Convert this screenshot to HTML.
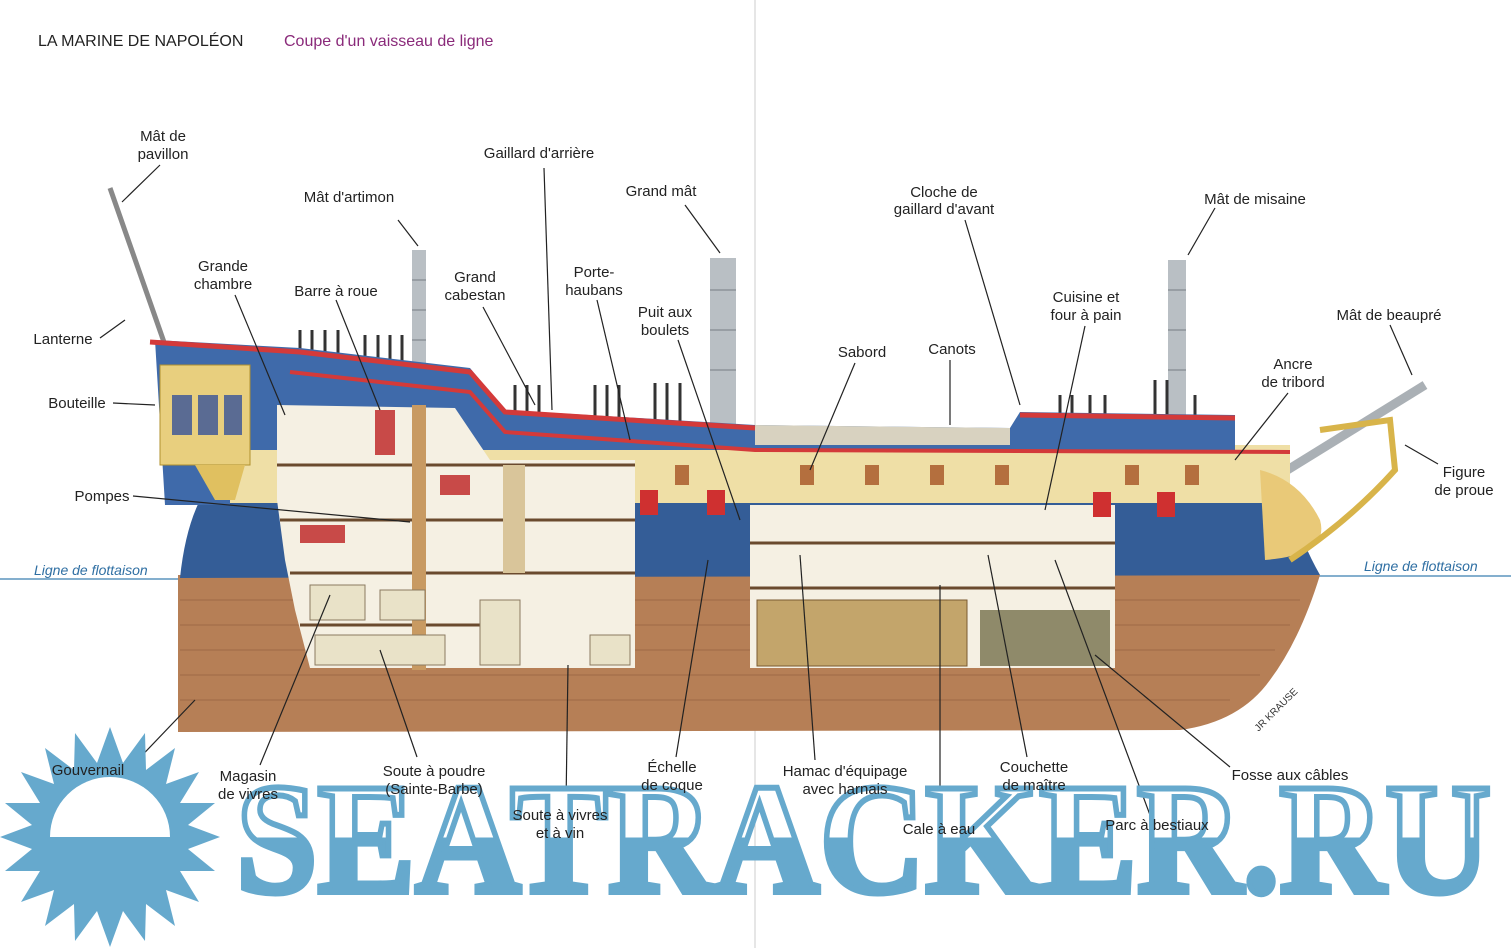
<!DOCTYPE html>
<html><head><meta charset="utf-8"><style>
html,body{margin:0;padding:0;background:#fff;width:1511px;height:948px;overflow:hidden}
svg{display:block}
text{font-family:"Liberation Sans",sans-serif;font-size:15px;fill:#222}
.l{stroke:#222;stroke-width:1.2;fill:none}
</style></head><body>
<svg width="1511" height="948" viewBox="0 0 1511 948" xmlns="http://www.w3.org/2000/svg">
<defs>
<linearGradient id="wm" x1="0" y1="780" x2="0" y2="895" gradientUnits="userSpaceOnUse">
<stop offset="0" stop-color="#fff"/><stop offset="0.5" stop-color="#fff"/><stop offset="0.5" stop-color="#66a9cd"/><stop offset="1" stop-color="#66a9cd"/>
</linearGradient>
</defs>
<line x1="755" y1="0" x2="755" y2="948" stroke="#ccc" stroke-width="1"/>
<text x="38" y="46" style="font-size:16px">LA MARINE DE NAPOLÉON</text>
<text x="284" y="46" style="font-size:16px;fill:#8a2a7a">Coupe d'un vaisseau de ligne</text>

<!-- waterline -->
<line x1="0" y1="579" x2="185" y2="579" stroke="#3b7fb0" stroke-width="1.2"/>
<line x1="1310" y1="576" x2="1511" y2="576" stroke="#3b7fb0" stroke-width="1.2"/>
<text x="34" y="575" style="font-style:italic;fill:#2f6fa3;font-size:14px">Ligne de flottaison</text>
<text x="1364" y="571" style="font-style:italic;fill:#2f6fa3;font-size:14px">Ligne de flottaison</text>

<!-- masts -->
<rect x="412" y="250" width="14" height="420" fill="#b9bfc4"/>
<rect x="710" y="258" width="26" height="185" fill="#b9bfc4"/>
<rect x="1168" y="260" width="18" height="165" fill="#b9bfc4"/>
<g stroke="#8d9399" stroke-width="1.5"><line x1="412" y1="280" x2="426" y2="280"/><line x1="412" y1="310" x2="426" y2="310"/><line x1="412" y1="340" x2="426" y2="340"/><line x1="710" y1="290" x2="736" y2="290"/><line x1="710" y1="330" x2="736" y2="330"/><line x1="710" y1="370" x2="736" y2="370"/><line x1="1168" y1="290" x2="1186" y2="290"/><line x1="1168" y1="330" x2="1186" y2="330"/><line x1="1168" y1="370" x2="1186" y2="370"/></g>
<line x1="110" y1="188" x2="165" y2="345" stroke="#888" stroke-width="5"/>
<line x1="1255" y1="490" x2="1425" y2="385" stroke="#aab0b5" stroke-width="9"/>
<!-- rigging posts -->
<g stroke="#333" stroke-width="3">
<line x1="300" y1="330" x2="300" y2="380"/><line x1="312" y1="330" x2="312" y2="380"/><line x1="325" y1="330" x2="325" y2="380"/><line x1="338" y1="330" x2="338" y2="380"/>
<line x1="365" y1="335" x2="365" y2="385"/><line x1="378" y1="335" x2="378" y2="385"/><line x1="390" y1="335" x2="390" y2="385"/><line x1="402" y1="335" x2="402" y2="385"/>
<line x1="515" y1="385" x2="515" y2="440"/><line x1="527" y1="385" x2="527" y2="440"/><line x1="539" y1="385" x2="539" y2="440"/><line x1="595" y1="385" x2="595" y2="445"/><line x1="607" y1="385" x2="607" y2="445"/><line x1="619" y1="385" x2="619" y2="445"/><line x1="655" y1="383" x2="655" y2="448"/><line x1="667" y1="383" x2="667" y2="448"/><line x1="680" y1="383" x2="680" y2="448"/>
<line x1="1060" y1="395" x2="1060" y2="450"/><line x1="1072" y1="395" x2="1072" y2="450"/><line x1="1090" y1="395" x2="1090" y2="450"/><line x1="1105" y1="395" x2="1105" y2="450"/><line x1="1155" y1="380" x2="1155" y2="450"/><line x1="1167" y1="380" x2="1167" y2="450"/><line x1="1195" y1="395" x2="1195" y2="450"/>
</g>

<!-- brown hull -->
<path d="M178,575 L1320,575 Q1300,640 1270,680 Q1240,722 1180,730 L178,732 Z" fill="#b67f56"/>
<g stroke="#8d5b3a" stroke-width="1" opacity="0.6">
<line x1="180" y1="600" x2="1300" y2="600"/><line x1="180" y1="625" x2="1290" y2="625"/><line x1="180" y1="650" x2="1275" y2="650"/><line x1="180" y1="675" x2="1260" y2="675"/><line x1="180" y1="700" x2="1230" y2="700"/>
</g>
<!-- blue band -->
<path d="M200,500 L1290,500 Q1300,540 1320,575 L180,578 Q185,530 200,500 Z" fill="#345d97"/>
<!-- cream side -->
<rect x="230" y="445" width="1060" height="58" fill="#efdfa6"/>
<!-- upper stern/deck blue -->
<path d="M155,340 L300,348 L470,368 L505,410 L755,425 L755,450 L230,450 L230,505 L165,505 Z" fill="#3f6aaa"/>
<path d="M755,425 L1010,428 L1020,412 L1235,415 L1235,450 L755,450 Z" fill="#3f6aaa"/>
<path d="M755,425 L1010,428 L1010,445 L755,445Z" fill="#d8d2c0"/>
<!-- rails -->
<polyline points="150,342 300,352 470,372 505,412 755,428" fill="none" stroke="#d33a3a" stroke-width="5"/>
<polyline points="290,372 470,392 505,432 755,450 1290,452" fill="none" stroke="#d33a3a" stroke-width="4"/>
<polyline points="1020,415 1235,418" fill="none" stroke="#d33a3a" stroke-width="5"/>
<!-- stern gallery -->
<rect x="160" y="365" width="90" height="100" fill="#e8cf7e" stroke="#b0902e"/>
<g fill="#5a6b93"><rect x="172" y="395" width="20" height="40"/><rect x="198" y="395" width="20" height="40"/><rect x="224" y="395" width="18" height="40"/></g>
<path d="M195,465 L245,465 L235,500 L215,500 Z" fill="#e0c060"/>
<!-- bow -->
<path d="M1260,470 Q1300,480 1320,520 Q1330,555 1265,560 Z" fill="#e9c978"/>
<path d="M1320,430 L1390,420 L1395,470 Q1350,520 1290,560" fill="none" stroke="#d8b44a" stroke-width="6"/>
<!-- interior left -->
<path d="M277,405 L455,408 L490,460 L635,460 L635,668 L310,668 L295,610 L285,560 L277,500 Z" fill="#f5f0e3"/>
<g stroke="#6a4a2e" stroke-width="3"><line x1="277" y1="465" x2="635" y2="465"/><line x1="280" y1="520" x2="635" y2="520"/><line x1="290" y1="573" x2="635" y2="573"/><line x1="300" y1="625" x2="480" y2="625"/></g>
<rect x="412" y="405" width="14" height="265" fill="#c89a62"/>
<rect x="503" y="465" width="22" height="108" fill="#d9c59a"/>
<g fill="#e9e2c8" stroke="#8a7a60"><rect x="310" y="585" width="55" height="35"/><rect x="380" y="590" width="45" height="30"/><rect x="315" y="635" width="130" height="30"/><rect x="590" y="635" width="40" height="30"/><rect x="480" y="600" width="40" height="65"/></g>
<g fill="#c84a48"><rect x="300" y="525" width="45" height="18"/><rect x="440" y="475" width="30" height="20"/><rect x="375" y="410" width="20" height="45"/></g>
<!-- interior right -->
<path d="M750,505 L1115,505 L1115,668 L750,668 Z" fill="#f5f0e3"/>
<g stroke="#6a4a2e" stroke-width="3"><line x1="750" y1="543" x2="1115" y2="543"/><line x1="750" y1="588" x2="1115" y2="588"/></g>
<rect x="757" y="600" width="210" height="66" fill="#c3a56b" stroke="#7a5a30"/>
<rect x="980" y="610" width="130" height="56" fill="#8f8a6a"/>
<!-- sabords -->
<g fill="#cf3030"><rect x="640" y="490" width="18" height="25"/><rect x="707" y="490" width="18" height="25"/><rect x="1093" y="492" width="18" height="25"/><rect x="1157" y="492" width="18" height="25"/></g>
<g fill="#b46f3e"><rect x="800" y="465" width="14" height="20"/><rect x="865" y="465" width="14" height="20"/><rect x="930" y="465" width="14" height="20"/><rect x="995" y="465" width="14" height="20"/><rect x="1125" y="465" width="14" height="20"/><rect x="1185" y="465" width="14" height="20"/><rect x="675" y="465" width="14" height="20"/></g>
<text x="1235" y="725" transform="rotate(-45 1255 700)" style="font-size:10px;fill:#333">JR KRAUSE</text>

<!-- leader lines -->
<g class="l">
<line x1="160" y1="165" x2="122" y2="202"/><line x1="100" y1="338" x2="125" y2="320"/><line x1="113" y1="403" x2="155" y2="405"/>
<line x1="133" y1="496" x2="410" y2="522"/><line x1="235" y1="295" x2="285" y2="415"/><line x1="336" y1="300" x2="380" y2="410"/>
<line x1="398" y1="220" x2="418" y2="246"/><line x1="483" y1="307" x2="535" y2="405"/><line x1="544" y1="168" x2="552" y2="410"/>
<line x1="597" y1="300" x2="630" y2="440"/><line x1="685" y1="205" x2="720" y2="253"/><line x1="678" y1="340" x2="740" y2="520"/>
<line x1="855" y1="363" x2="810" y2="470"/><line x1="950" y1="360" x2="950" y2="425"/><line x1="965" y1="220" x2="1020" y2="405"/>
<line x1="1085" y1="326" x2="1045" y2="510"/><line x1="1215" y1="208" x2="1188" y2="255"/><line x1="1390" y1="325" x2="1412" y2="375"/>
<line x1="1288" y1="393" x2="1235" y2="460"/><line x1="1438" y1="464" x2="1405" y2="445"/>
<line x1="130" y1="768" x2="195" y2="700"/><line x1="260" y1="765" x2="330" y2="595"/><line x1="417" y1="757" x2="380" y2="650"/>
<line x1="566" y1="805" x2="568" y2="665"/><line x1="676" y1="757" x2="708" y2="560"/><line x1="815" y1="760" x2="800" y2="555"/>
<line x1="940" y1="822" x2="940" y2="585"/><line x1="1027" y1="757" x2="988" y2="555"/><line x1="1150" y1="815" x2="1055" y2="560"/>
<line x1="1230" y1="767" x2="1095" y2="655"/>
</g>

<!-- labels -->
<g text-anchor="middle">
<text x="163" y="141">Mât de</text><text x="163" y="159">pavillon</text>
<text x="539" y="158">Gaillard d'arrière</text>
<text x="349" y="202">Mât d'artimon</text>
<text x="661" y="196">Grand mât</text>
<text x="944" y="197">Cloche de</text><text x="944" y="214">gaillard d'avant</text>
<text x="1255" y="204">Mât de misaine</text>
<text x="223" y="271">Grande</text><text x="223" y="289">chambre</text>
<text x="336" y="296">Barre à roue</text>
<text x="475" y="282">Grand</text><text x="475" y="300">cabestan</text>
<text x="594" y="277">Porte-</text><text x="594" y="295">haubans</text>
<text x="665" y="317">Puit aux</text><text x="665" y="335">boulets</text>
<text x="1086" y="302">Cuisine et</text><text x="1086" y="320">four à pain</text>
<text x="1389" y="320">Mât de beaupré</text>
<text x="862" y="357">Sabord</text>
<text x="952" y="354">Canots</text>
<text x="1293" y="369">Ancre</text><text x="1293" y="387">de tribord</text>
<text x="1464" y="477">Figure</text><text x="1464" y="495">de proue</text>
<text x="63" y="344">Lanterne</text>
<text x="77" y="408">Bouteille</text>
<text x="102" y="501">Pompes</text>
</g>

<!-- sun -->
<g transform="translate(110,837)">
<polygon fill="#66a9cd" points="0,-110 13,-74 35,-104 36,-67 65,-89 56,-53 89,-65 70,-34 105,-34 78,-12 110,0 78,12 105,34 70,34 89,65 56,53 65,89 36,67 35,104 13,74 0,110 -13,74 -35,104 -36,67 -65,89 -56,53 -89,65 -70,34 -105,34 -78,12 -110,0 -78,-12 -105,-34 -70,-34 -89,-65 -56,-53 -65,-89 -36,-67 -35,-104 -13,-74"/>
<path d="M-60,0 A60,60 0 0 1 60,0 Z" fill="#fff"/>
</g>
<!-- watermark -->
<text x="236" y="892" textLength="1255" lengthAdjust="spacingAndGlyphs" style="font-family:'Liberation Serif',serif;font-weight:bold;font-size:158px;fill:url(#wm);stroke:#66a9cd;stroke-width:6">SEATRACKER.RU</text>

<g text-anchor="middle">
<text x="88" y="775">Gouvernail</text>
<text x="248" y="781">Magasin</text><text x="248" y="799">de vivres</text>
<text x="434" y="776">Soute à poudre</text><text x="434" y="794">(Sainte-Barbe)</text>
<text x="672" y="772">Échelle</text><text x="672" y="790">de coque</text>
<text x="845" y="776">Hamac d'équipage</text><text x="845" y="794">avec harnais</text>
<text x="1034" y="772">Couchette</text><text x="1034" y="790">de maître</text>
<text x="1290" y="780">Fosse aux câbles</text>
<text x="560" y="820">Soute à vivres</text><text x="560" y="838">et à vin</text>
<text x="939" y="834">Cale à eau</text>
<text x="1157" y="830">Parc à bestiaux</text>
</g>
</svg>
</body></html>
